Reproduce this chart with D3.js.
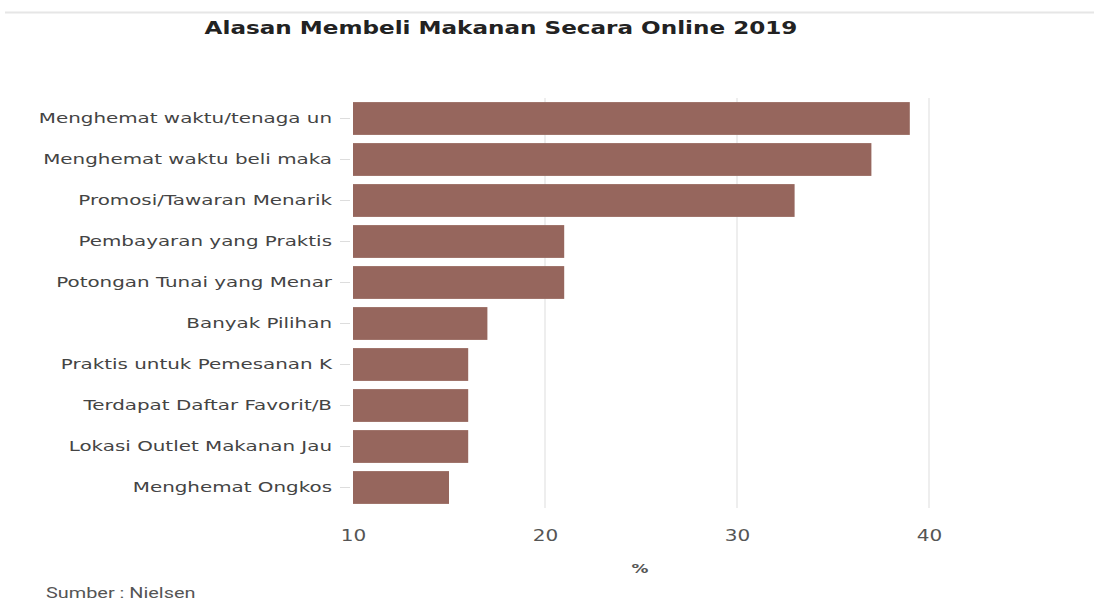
<!DOCTYPE html>
<html>
<head>
<meta charset="utf-8">
<script src="https://cdn.jsdelivr.net/npm/d3@7"></script>
<style>
  body { margin: 0; background: #fff; }
  svg { display: block; font-family: "DejaVu Sans", Verdana, sans-serif; }
</style>
</head>
<body>
<svg width="1094" height="601"></svg>
<script>
const categories = [
  "Menghemat waktu/tenaga un",
  "Menghemat waktu beli maka",
  "Promosi/Tawaran Menarik",
  "Pembayaran yang Praktis",
  "Potongan Tunai yang Menar",
  "Banyak Pilihan",
  "Praktis untuk Pemesanan K",
  "Terdapat Daftar Favorit/B",
  "Lokasi Outlet Makanan Jau",
  "Menghemat Ongkos"
];
const values = [39, 37, 33, 21, 21, 17, 16, 16, 16, 15];
const xTicks = [10, 20, 30, 40];

const svg = d3.select("svg"),
    width = +svg.attr("width"),
    height = +svg.attr("height");

const margin = { top: 98, right: 165, bottom: 93, left: 353 };
const stretch = 1.42; // the source picture is widened horizontally

const x = d3.scaleLinear().domain([10, 40]).range([margin.left, width - margin.right]);
const y = d3.scaleBand().domain(categories).range([margin.top, height - margin.bottom])
    .paddingInner(0.2).paddingOuter(0.1);

// draw a text widened by sx around its anchor point
function wideText(px, py, sx) {
  return svg.append("text")
    .attr("transform", "translate(" + px + "," + py + ") scale(" + sx + ",1)");
}

// top rule
svg.append("line")
    .attr("x1", 5).attr("x2", width).attr("y1", 12.5).attr("y2", 12.5)
    .attr("stroke", "#e6e6e6").attr("stroke-width", 2);

// title
wideText(501, 34, 1.32)
    .attr("text-anchor", "middle")
    .attr("font-weight", "bold")
    .attr("font-size", 17.5)
    .attr("fill", "#222")
    .text("Alasan Membeli Makanan Secara Online 2019");

// gridlines
svg.append("g")
  .selectAll("line")
  .data(xTicks.slice(1))
  .join("line")
    .attr("x1", d => x(d)).attr("x2", d => x(d))
    .attr("y1", margin.top).attr("y2", height - margin.bottom)
    .attr("stroke", "#eeeeee").attr("stroke-width", 2);

// bars
svg.append("g")
  .selectAll("rect")
  .data(values)
  .join("rect")
    .attr("x", x(10))
    .attr("y", (d, i) => y(categories[i]))
    .attr("width", d => x(d) - x(10))
    .attr("height", y.bandwidth())
    .attr("fill", "#96665d");

// y axis
const yAxis = svg.append("g")
    .attr("transform", "translate(" + (margin.left - 3) + ",0)")
    .call(d3.axisLeft(y).tickSize(10).tickPadding(8));
yAxis.select(".domain").remove();
yAxis.selectAll(".tick line").attr("stroke", "#dddddd");
yAxis.selectAll(".tick text")
    .attr("x", -18 / stretch)
    .attr("transform", "scale(" + stretch + ",1)")
    .attr("font-size", 14)
    .attr("fill", "#444")
    .attr("font-family", "DejaVu Sans, Verdana, sans-serif");

// x axis
const xAxis = svg.append("g")
    .attr("transform", "translate(0," + (height - margin.bottom) + ")")
    .call(d3.axisBottom(x).tickValues(xTicks).tickSize(0).tickPadding(22));
xAxis.select(".domain").remove();
xAxis.selectAll(".tick text")
    .attr("transform", "scale(1.25,1)")
    .attr("font-size", 16)
    .attr("fill", "#555")
    .attr("font-family", "DejaVu Sans, Verdana, sans-serif");

// x axis title
wideText(640, 573, 1.3)
    .attr("text-anchor", "middle")
    .attr("font-size", 13)
    .attr("font-weight", "bold")
    .attr("fill", "#555")
    .text("%");

// source
wideText(46, 598, 1.42)
    .attr("font-family", "Roboto, sans-serif")
    .attr("font-size", 14)
    .attr("fill", "#555")
    .text("Sumber : Nielsen");
</script>
</body>
</html>
